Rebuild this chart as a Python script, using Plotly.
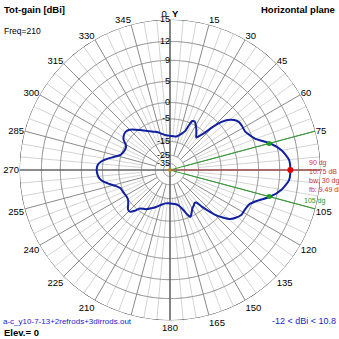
import numpy as np
import plotly.graph_objects as go

# ---------------- data ----------------
angles_deg = [0, 5, 10, 15, 19, 21.5, 23, 24.5, 27, 30, 33, 36, 39, 41, 43, 45, 47, 49, 52, 55,
              59, 63, 66, 70, 75, 80, 85, 90, 95, 100, 105, 109, 113, 117, 122, 126, 129, 132,
              135, 137, 139, 141, 143, 146, 150, 154, 156.5, 158.5, 161, 164, 167, 172, 177,
              183, 188, 194, 200, 206, 212, 218, 221, 224, 227, 230, 234, 238, 244, 250, 254,
              257, 260, 263, 266, 270, 274, 277, 280, 283, 287, 292, 297, 300, 303, 307, 311,
              315, 319, 323, 330, 336, 341, 346, 352, 357]
gain_dbi = [-12.0, -12.1, -12.1, -11.0, -9.6, -8.4, -5.8, -4.1, -3.9, -4.8, -6.0, -7.3, -8.6,
            -7.0, -5.0, -1.5, 0.8, 2.2, 3.4, 4.0, 4.1, 4.1, 4.6, 5.5, 7.9, 9.6, 10.6, 10.75,
            10.6, 9.6, 7.9, 6.0, 4.6, 4.2, 4.1, 3.4, 2.6, 0.9, -1.2, -3.5, -5.8, -8.5, -8.8,
            -8.2, -7.4, -5.8, -5.0, -6.0, -8.0, -9.8, -11.1, -11.9, -12.2, -12.4, -12.2, -11.2,
            -9.7, -8.2, -6.8, -5.8, -4.0, -2.8, -2.9, -3.8, -4.8, -5.1, -4.8, -4.4, -3.0, -1.5,
            0.0, 0.9, 1.3, 1.5, 1.3, 0.5, -1.0, -2.8, -4.8, -5.5, -5.6, -5.0, -3.6, -2.8, -2.6,
            -3.1, -4.2, -5.4, -7.2, -8.5, -9.2, -10.3, -11.4, -11.8]

ring_db = [15, 12, 9, 5, 0, -5, -15, -25, -35]
ring_labels = ["15", "12", "9", "5", "0", "-5", "-15", "-25", "-35"]

angle_ticks = list(range(0, 360, 15))
angle_labels = ["0\u00a0\u00a0<b>Y</b>", "15", "30", "45", "60", "75", "", "105", "120", "135",
                "150", "165", "180", "195", "210", "225", "240", "255", "270", "285", "300",
                "315", "330", "345"]

peak_angle = [90]
peak_gain = [10.75]
bw_angles = [75, 105]
bw_gain = [7.75, 7.75]

# ---------------- log (ARRL-like) radial scale ----------------
B, C, TOP = 0.951, 0.04, 15.0


def to_r(db):
    db = np.asarray(db, dtype=float)
    return (B ** (TOP - db) - C) / (1 - C)


fig = go.Figure()

# minor 5-degree spokes
minor = [a for a in range(0, 360, 5) if a % 15 != 0]
r_in_minor = float(to_r(-15))
th, rr = [], []
for a in minor:
    th += [a, a, None]
    rr += [r_in_minor, 1.0, None]
fig.add_trace(go.Scatterpolar(r=rr, theta=th, mode="lines", connectgaps=False,
                              line=dict(color="#d4d4d4", width=1), hoverinfo="skip"))

# rings
circ = np.linspace(0, 360, 721)
th, rr = [], []
for d in ring_db[1:]:
    th += list(circ) + [None]
    rr += [float(to_r(d))] * len(circ) + [None]
fig.add_trace(go.Scatterpolar(r=rr, theta=th, mode="lines", connectgaps=False,
                              line=dict(color="#8a8a8a", width=1), hoverinfo="skip"))

# major 15-degree spokes
r_in_major = float(to_r(-25))
th, rr = [], []
for a in angle_ticks:
    if a % 90 == 0:
        continue
    th += [a, a, None]
    rr += [r_in_major, 1.0, None]
fig.add_trace(go.Scatterpolar(r=rr, theta=th, mode="lines", connectgaps=False,
                              line=dict(color="#8a8a8a", width=1), hoverinfo="skip"))

# main axes
fig.add_trace(go.Scatterpolar(r=[1, 0, 1, None, 1, 0, 1], theta=[0, 0, 180, None, 90, 90, 270],
                              mode="lines", connectgaps=False,
                              line=dict(color="#666666", width=1.6), hoverinfo="skip"))

# outer circle
fig.add_trace(go.Scatterpolar(r=[1.0] * len(circ), theta=circ, mode="lines",
                              line=dict(color="#222222", width=1), hoverinfo="skip"))

# beam-width lines (green) and max line (red)
fig.add_trace(go.Scatterpolar(r=[0, 1, None, 0, 1], theta=[bw_angles[0], bw_angles[0], None,
                                                          bw_angles[1], bw_angles[1]],
                              mode="lines", connectgaps=False,
                              line=dict(color="#2e9e2e", width=1), hoverinfo="skip"))
fig.add_trace(go.Scatterpolar(r=[0, 1], theta=[peak_angle[0], peak_angle[0]], mode="lines",
                              line=dict(color="#c85050", width=1), hoverinfo="skip"))

# pattern
fig.add_trace(go.Scatterpolar(r=list(to_r(gain_dbi)) + [float(to_r(gain_dbi[0]))],
                              theta=angles_deg + [angles_deg[0]], mode="lines",
                              line=dict(color="#1020a0", width=2, shape="spline",
                                        smoothing=0.6),
                              hoverinfo="skip"))

# markers
fig.add_trace(go.Scatterpolar(r=to_r(bw_gain), theta=bw_angles, mode="markers",
                              marker=dict(color="#20a020", size=5), hoverinfo="skip"))
fig.add_trace(go.Scatterpolar(r=to_r(peak_gain), theta=peak_angle, mode="markers",
                              marker=dict(color="#e00000", size=6), hoverinfo="skip"))
fig.add_trace(go.Scatterpolar(r=[0], theta=[0], mode="markers",
                              marker=dict(color="#b08a20", size=4), hoverinfo="skip"))

# radial labels
fig.add_trace(go.Scatterpolar(r=to_r(ring_db), theta=[0] * len(ring_db), mode="text",
                              text=ring_labels, textposition="middle left",
                              textfont=dict(family="Liberation Sans", size=9, color="black"),
                              hoverinfo="skip"))

W = H = 339
cx, cy, R = 170.0, 170.0, 150.5
fig.update_layout(
    width=W, height=H, margin=dict(l=0, r=0, t=0, b=0),
    paper_bgcolor="white", plot_bgcolor="white", showlegend=False,
    font=dict(family="Liberation Sans", size=9, color="black"),
    polar=dict(
        domain=dict(x=[(cx - R) / W, (cx + R) / W], y=[(H - cy - R) / H, (H - cy + R) / H]),
        bgcolor="white",
        radialaxis=dict(range=[0, 1], showgrid=False, showline=False, showticklabels=False,
                        ticks=""),
        angularaxis=dict(rotation=90, direction="clockwise", tickmode="array",
                         tickvals=angle_ticks, ticktext=angle_labels, showgrid=False,
                         showline=False, ticks="",
                         tickfont=dict(family="Liberation Sans", size=9.5, color="black")),
    ),
)

def ann(text, x, y, xa, ya, color="black", size=9, bg=None):
    d = dict(text=text, x=x / W, y=1 - y / H, xref="paper", yref="paper", xanchor=xa,
             yanchor=ya, showarrow=False, font=dict(family="Liberation Sans", size=size,
                                                     color=color), borderpad=0)
    if bg:
        d["bgcolor"] = bg
    fig.add_annotation(**d)

ann("<b>Tot-gain [dBi]</b>", 3, 3, "left", "top", size=9.5)
ann("Freq=210", 3, 25, "left", "top", size=8.5)
ann("<b>Horizontal plane</b>", 336, 3, "right", "top", size=9.5)
ann("a-c_y10-7-13+2refrods+3dirrods.out", 2, 327, "left", "bottom", color="#2222cc", size=8,
    bg="white")
ann("<b>Elev.= 0</b>", 3, 339, "left", "bottom", size=9.5)
ann("-12 < dBi < 10.8", 337, 327, "right", "bottom", color="#2222cc", size=9)

red = "#cc3333"
ann("90 dg", 308, 158, "left", "top", color=red, size=7)
ann("10.75 dB", 308, 167, "left", "top", color=red, size=7)
ann("bw: 30 dg", 308, 176, "left", "top", color=red, size=7)
ann("fb: 9.49 dB", 308, 185, "left", "top", color=red, size=7)
ann("105 dg", 303, 196, "left", "top", color="#229922", size=7)

fig.write_html("out.html")
